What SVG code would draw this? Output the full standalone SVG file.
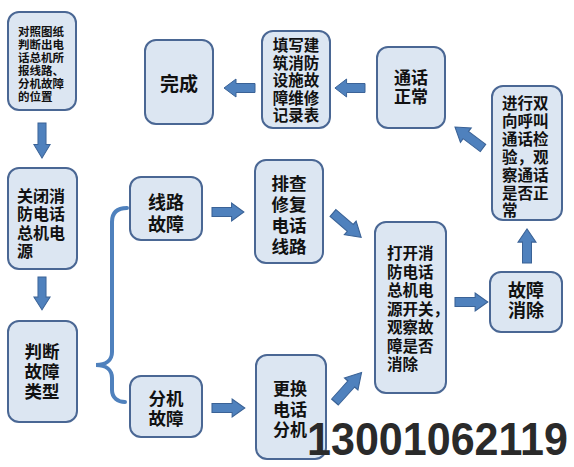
<svg xmlns="http://www.w3.org/2000/svg" xmlns:xlink="http://www.w3.org/1999/xlink" width="574" height="467" viewBox="0 0 574 467">
<defs>
<style>
.box{fill:#dce6f2;stroke:#4a6794;stroke-width:2}
.t{font-family:"Noto Sans CJK SC","Noto Sans CJK TC",sans-serif;font-weight:bold;fill:#111}
.c{text-anchor:middle}
.arr{fill:#4f81bd;stroke:#3a6296;stroke-width:1}
.brace{fill:none;stroke:#4f81bd;stroke-width:4;stroke-linecap:round}
</style>
<path id="a" d="M0,-4.5 H19 V-9 L31,0 L19,9 V4.5 H0 Z"/>
</defs>
<rect width="574" height="467" fill="#fff"/>

<g id="n1">
<rect class="box" x="8" y="12" width="68" height="98" rx="11"/>
<text class="t" font-size="11.5"><tspan x="18" y="35.5">对照图纸</tspan><tspan x="18" y="48.5">判断出电</tspan><tspan x="18" y="61.5">话总机所</tspan><tspan x="18" y="74.5">报线路、</tspan><tspan x="18" y="87.5">分机故障</tspan><tspan x="18" y="100.5">的位置</tspan></text>
</g>
<g id="n2">
<rect class="box" x="8" y="168" width="69" height="101" rx="11"/>
<text class="t" font-size="16"><tspan x="17" y="201.5">关闭消</tspan><tspan x="17" y="220">防电话</tspan><tspan x="17" y="238.5">总机电</tspan><tspan x="17" y="257">源</tspan></text>
</g>
<g id="n3">
<rect class="box" x="8" y="321" width="69" height="101" rx="11"/>
<text class="t c" font-size="17.5"><tspan x="42" y="358">判断</tspan><tspan x="42" y="378">故障</tspan><tspan x="42" y="398">类型</tspan></text>
</g>
<g id="n4">
<rect class="box" x="130" y="177" width="72" height="63" rx="11"/>
<text class="t c" font-size="18"><tspan x="166" y="208.5">线路</tspan><tspan x="166" y="230.5">故障</tspan></text>
</g>
<g id="n5">
<rect class="box" x="130" y="376" width="72" height="61" rx="11"/>
<text class="t c" font-size="17.5"><tspan x="166" y="405">分机</tspan><tspan x="166" y="425">故障</tspan></text>
</g>
<g id="n6">
<rect class="box" x="255" y="160" width="68" height="103" rx="11"/>
<text class="t c" font-size="17.5"><tspan x="289" y="190">排查</tspan><tspan x="289" y="211">修复</tspan><tspan x="289" y="232">电话</tspan><tspan x="289" y="253">线路</tspan></text>
</g>
<g id="n7">
<rect class="box" x="256" y="355" width="70" height="104" rx="11"/>
<text class="t c" font-size="17"><tspan x="290" y="395">更换</tspan><tspan x="290" y="416">电话</tspan><tspan x="290" y="436">分机</tspan></text>
</g>
<g id="n8">
<rect class="box" x="375" y="222" width="71" height="171" rx="11"/>
<text class="t" font-size="15.5"><tspan x="387" y="259">打开消</tspan><tspan x="387" y="277.5">防电话</tspan><tspan x="387" y="296">总机电</tspan><tspan x="387" y="314.5">源开关，</tspan><tspan x="387" y="333">观察故</tspan><tspan x="387" y="351.5">障是否</tspan><tspan x="387" y="370">消除</tspan></text>
</g>
<g id="n9">
<rect class="box" x="490" y="272" width="72" height="60" rx="11"/>
<text class="t c" font-size="18"><tspan x="526" y="297">故障</tspan><tspan x="526" y="317">消除</tspan></text>
</g>
<g id="n10">
<rect class="box" x="492" y="86" width="70" height="134" rx="11"/>
<text class="t" font-size="15.5"><tspan x="502" y="108.5">进行双</tspan><tspan x="502" y="126.5">向呼叫</tspan><tspan x="502" y="144.5">通话检</tspan><tspan x="502" y="162.5">验，观</tspan><tspan x="502" y="180.5">察通话</tspan><tspan x="502" y="198.5">是否正</tspan><tspan x="502" y="215.5">常</tspan></text>
</g>
<g id="n11">
<rect class="box" x="377" y="47" width="68" height="81" rx="11"/>
<text class="t c" font-size="17"><tspan x="411" y="84">通话</tspan><tspan x="411" y="103">正常</tspan></text>
</g>
<g id="n12">
<rect class="box" x="262" y="31" width="68" height="97" rx="11"/>
<text class="t c" font-size="15.5"><tspan x="296" y="51">填写建</tspan><tspan x="296" y="68.5">筑消防</tspan><tspan x="296" y="86">设施故</tspan><tspan x="296" y="103.5">障维修</tspan><tspan x="296" y="121">记录表</tspan></text>
</g>
<g id="n13">
<rect class="box" x="145" y="40" width="68" height="84" rx="11"/>
<text class="t c" font-size="19"><tspan x="179" y="91">完成</tspan></text>
</g>

<g id="connectors">
<path class="brace" d="M127,208 C118,208 112,212 112,222 L112,352 C112,360 106,365 96,365 C106,365 112,370 112,378 L112,390 C112,398 118,402 125,402"/>
<use href="#a" class="arr" transform="translate(42,123) rotate(90) scale(1.13,0.9)"/>
<use href="#a" class="arr" transform="translate(42,277) rotate(90) scale(1.06,0.9)"/>
<use href="#a" class="arr" transform="translate(212,212) rotate(0) scale(1.03,1)"/>
<use href="#a" class="arr" transform="translate(333,213) rotate(40.8) scale(1.2,1)"/>
<use href="#a" class="arr" transform="translate(212,408) rotate(0) scale(1.06,1)"/>
<use href="#a" class="arr" transform="translate(335,402) rotate(-48) scale(1.28,1)"/>
<use href="#a" class="arr" transform="translate(455,302) rotate(0) scale(1.06,1)"/>
<use href="#a" class="arr" transform="translate(527,263) rotate(-90) scale(1.1,1)"/>
<use href="#a" class="arr" transform="translate(483,148) rotate(216.9) scale(1.13,1)"/>
<use href="#a" class="arr" transform="translate(365,88) rotate(180) scale(0.97,1)"/>
<use href="#a" class="arr" transform="translate(255,88) rotate(180) scale(1,1)"/>
</g>

<text x="307" y="455" font-family="Liberation Sans, Arial, sans-serif" font-size="46" font-weight="bold" fill="#2a2a2a" textLength="261" lengthAdjust="spacingAndGlyphs">13001062119</text>
</svg>
